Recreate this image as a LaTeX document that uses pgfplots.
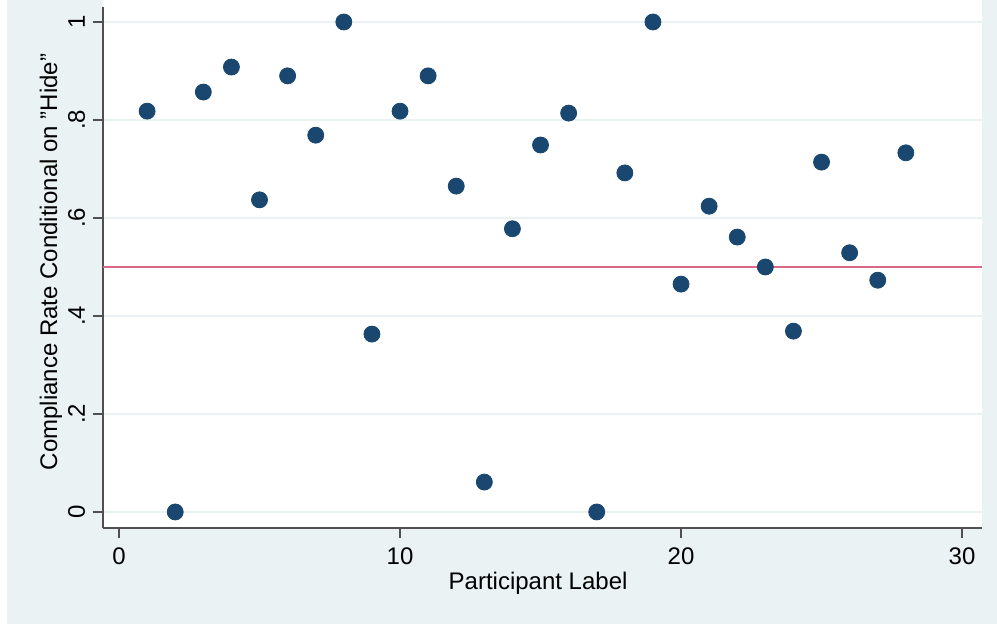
\documentclass[border=0pt]{standalone}
\usepackage{pgfplots}
\pgfplotsset{compat=1.18}
\usepackage{fontspec}
\setmainfont{Liberation Sans}
\definecolor{bgc}{RGB}{234,242,243}
\definecolor{gridc}{RGB}{234,242,243}
\definecolor{navy}{RGB}{26,71,111}
\definecolor{redl}{RGB}{218,104,134}
\definecolor{axc}{RGB}{80,80,80}
\begin{document}
\begin{tikzpicture}
\useasboundingbox (0,0) rectangle (498.5pt,312pt);
\fill[white] (0,0) rectangle (498.5pt,312pt);
\fill[bgc] (3.5pt,0) rectangle (498.5pt,312pt);
\fill[white] (51.5pt,48pt) rectangle (491pt,312pt);
\begin{axis}[
  at={(51.5pt,48pt)}, anchor=south west,
  scale only axis, width=439.5pt, height=260.5pt,
  xmin=-0.57, xmax=30.71, ymin=-0.0327, ymax=1.0306,
  axis x line*=bottom, axis y line*=left,
  axis line style={draw=axc, line width=0.75pt, -},
  tick align=outside, major tick length=5pt,
  tick style={draw=axc, line width=0.75pt},
  /pgf/number format/assume math mode=true,
  xtick={0,10,20,30},
  xticklabels={0,10,20,30},
  ytick={0,0.2,0.4,0.6,0.8,1},
  yticklabels={0,.2,.4,.6,.8,1},
  ymajorgrids, grid style={draw=gridc, line width=0.75pt},
  tick label style={font=\fontsize{12}{14}\selectfont, inner sep=0pt},
  yticklabel style={rotate=90, anchor=base},
  yticklabel shift=4pt,
  xticklabel style={anchor=north},
  xticklabel shift=4.5pt,
  xlabel={Participant Label},
  ylabel={Compliance Rate Conditional on "Hide"},
  label style={font=\fontsize{12}{14}\selectfont, inner sep=0pt},
  xlabel style={at={(axis description cs:0.495,-0.119)}, anchor=base},
  ylabel style={at={(axis description cs:-0.0523,0.5106)}, anchor=base, rotate=0},
  clip=false,
]
\addplot[draw=redl, line width=1pt] coordinates {(-0.57,0.5) (30.71,0.5)};
\addplot[only marks, mark=*, mark size=4pt, mark options={fill=navy, draw=navy}] coordinates {
(1,0.818) (2,0) (3,0.857) (4,0.908) (5,0.637) (6,0.890) (7,0.769) (8,1.0)
(9,0.363) (10,0.818) (11,0.890) (12,0.665) (13,0.061) (14,0.578) (15,0.749)
(16,0.814) (17,0) (18,0.692) (19,1.0) (20,0.465) (21,0.624) (22,0.561)
(23,0.5) (24,0.369) (25,0.714) (26,0.529) (27,0.473) (28,0.733)
};
\end{axis}
\end{tikzpicture}
\end{document}
